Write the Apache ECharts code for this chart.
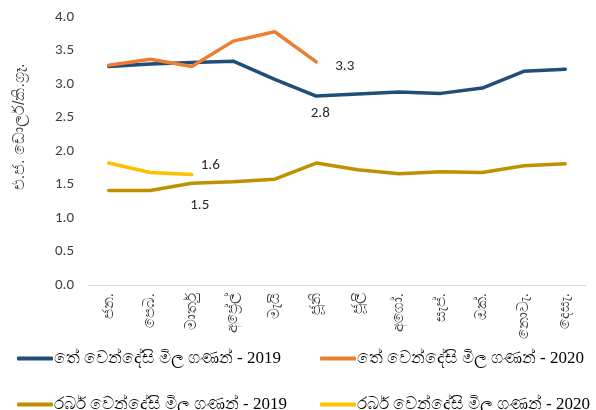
<!DOCTYPE html>
<html lang="si">
<head>
    <meta charset="UTF-8">
    <title>වෙන්දේසි මිල ගණන්</title>
    <script src="https://cdn.jsdelivr.net/npm/echarts@6/dist/echarts.min.js"></script>
    <style>
        html, body { margin: 0; padding: 0; background: #fff; }
        #chart { width: 596px; height: 410px; }
    </style>
</head>
<body>
<div id="chart"></div>
<script type="text/javascript">
    // මාස
    var months = ['ජන.', 'පෙබ.', 'මාර්තු', 'අප්‍රේල්', 'මැයි', 'ජූනි', 'ජූලි', 'අගෝ.', 'සැප්.', 'ඔක්.', 'නොවැ.', 'දෙසැ.'];

    var tea2019 = [3.26, 3.30, 3.32, 3.34, 3.07, 2.82, 2.85, 2.88, 2.86, 2.94, 3.19, 3.22];
    var tea2020 = [3.28, 3.37, 3.26, 3.64, 3.78, 3.33];
    var rubber2019 = [1.41, 1.41, 1.52, 1.54, 1.58, 1.82, 1.72, 1.66, 1.69, 1.68, 1.78, 1.81];
    var rubber2020 = [1.82, 1.68, 1.65];

    var names = [
        'තේ වෙන්දේසි මිල ගණන් - 2019',
        'තේ වෙන්දේසි මිල ගණන් - 2020',
        'රබර් වෙන්දේසි මිල ගණන් - 2019',
        'රබර් වෙන්දේසි මිල ගණන් - 2020'
    ];
    var colors = ['#1f4e79', '#ed7d31', '#bf9000', '#ffc000'];
    var yTitle = 'එ.ජ. ඩොලර්/කි.ග්‍රෑ.';

    var labelFont = 'Calibri, Carlito, "Noto Sans", sans-serif';

    // only the marked month gets a value label
    function withLabel(arr, idx, pos, offset) {
        return arr.map(function (v, i) {
            if (i !== idx) return v;
            return {
                value: v,
                label: {
                    show: true,
                    position: pos,
                    offset: offset,
                    color: '#262626',
                    fontSize: 15,
                    fontFamily: labelFont,
                    formatter: function (p) { return p.value.toFixed(1); }
                }
            };
        });
    }

    function lineSeries(k, data) {
        return {
            name: names[k], type: 'line',
            symbol: 'circle', symbolSize: 0, showSymbol: true,
            lineStyle: { width: 3.5, color: colors[k], cap: 'round', join: 'round' },
            itemStyle: { color: colors[k] },
            data: data
        };
    }

    function legendAt(name, left, top) {
        return {
            data: [name],
            left: left,
            top: top,
            icon: 'roundRect',
            itemWidth: 36,
            itemHeight: 4,
            itemGap: 2,
            textStyle: {
                color: '#000',
                fontSize: 17,
                fontFamily: '"Liberation Serif", "Times New Roman", serif',
                padding: [0, 0, 0, -4]
            }
        };
    }

    var myChart = echarts.init(document.getElementById('chart'));

    myChart.setOption({
        animation: false,
        grid: { left: 88, right: 10, top: 17, bottom: 125 },
        graphic: [{
            type: 'text',
            x: 20,
            y: 127,
            rotation: Math.PI / 2,
            style: {
                text: yTitle,
                fill: '#404040',
                fontSize: 16,
                align: 'center',
                verticalAlign: 'middle'
            }
        }],
        legend: [
            legendAt(names[0], 12, 345),
            legendAt(names[1], 315, 345),
            legendAt(names[2], 12, 391),
            legendAt(names[3], 315, 391)
        ],
        xAxis: {
            type: 'category',
            data: months,
            boundaryGap: true,
            axisLine: { lineStyle: { color: '#d9d9d9', width: 1 } },
            axisTick: { show: false },
            axisLabel: {
                rotate: 90,
                color: '#404040',
                fontSize: 15,
                margin: 8,
                interval: 0
            }
        },
        yAxis: {
            type: 'value',
            min: 0,
            max: 4,
            interval: 0.5,
            splitLine: { show: false },
            axisLine: { show: false },
            axisTick: { show: false },
            axisLabel: {
                color: '#404040',
                fontSize: 15,
                fontFamily: labelFont,
                margin: 14,
                formatter: function (v) { return v.toFixed(1); }
            }
        },
        series: [
            lineSeries(0, withLabel(tea2019, 5, 'bottom', [4, 5])),
            lineSeries(1, withLabel(tea2020, 5, 'right', [14, 4])),
            lineSeries(2, withLabel(rubber2019, 2, 'bottom', [8, 10])),
            lineSeries(3, withLabel(rubber2020, 2, 'right', [4, -9]))
        ]
    });
</script>
</body>
</html>
